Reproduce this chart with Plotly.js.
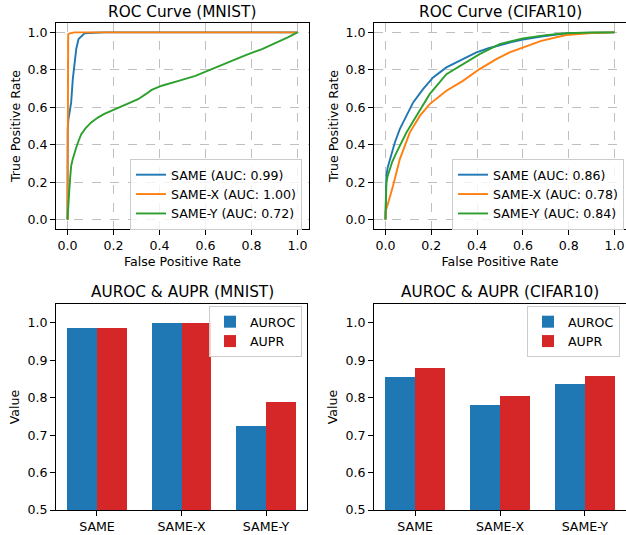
<!DOCTYPE html>
<html>
<head>
<meta charset="utf-8">
<script src="https://cdn.plot.ly/plotly-3.0.1.min.js"></script>
<style>html,body{margin:0;padding:0;background:#fff}#chart{width:626px;height:535px}</style>
</head>
<body>
<div id="chart"></div>
<script>
// ---------- ROC data (MNIST) ----------
var mnistSameFpr = [0, 0.0, 0.001, 0.004, 0.009, 0.016, 0.023, 0.031, 0.038, 0.048, 0.058, 0.067, 0.074, 0.09, 0.12, 0.16, 0.3, 1.0];
var mnistSameTpr = [0, 0.40, 0.483, 0.536, 0.57, 0.626, 0.75, 0.857, 0.911, 0.964, 0.975, 0.982, 0.995, 0.997, 0.998, 1.0, 1.0, 1.0];
var mnistXFpr = [0, 0.0, 0.003, 0.01, 0.03, 1.0];
var mnistXTpr = [0, 0.985, 0.99, 0.995, 1.0, 1.0];
var mnistYFpr = [0, 0.002, 0.004, 0.008, 0.012, 0.016, 0.022, 0.03, 0.038, 0.048, 0.06, 0.08, 0.103, 0.132, 0.16, 0.19, 0.22, 0.25, 0.307, 0.34, 0.366, 0.41, 0.45, 0.483, 0.556, 0.627, 0.70, 0.775, 0.846, 0.919, 0.96, 1.0];
var mnistYTpr = [0, 0.03, 0.073, 0.16, 0.23, 0.287, 0.32, 0.36, 0.385, 0.42, 0.456, 0.49, 0.519, 0.545, 0.565, 0.581, 0.597, 0.611, 0.643, 0.67, 0.693, 0.715, 0.728, 0.741, 0.768, 0.804, 0.843, 0.879, 0.911, 0.95, 0.975, 1.0];

// ---------- ROC data (CIFAR10) ----------
var cifarSameFpr = [0, 0.001, 0.004, 0.01, 0.019, 0.03, 0.041, 0.0625, 0.0916, 0.121, 0.164, 0.208, 0.266, 0.324, 0.397, 0.45, 0.498, 0.55, 0.6, 0.68, 0.789, 0.9, 1.0];
var cifarSameTpr = [0, 0.12, 0.233, 0.28, 0.322, 0.37, 0.412, 0.483, 0.554, 0.626, 0.697, 0.759, 0.813, 0.848, 0.893, 0.915, 0.932, 0.948, 0.961, 0.978, 0.995, 0.999, 1.0];
var cifarXFpr = [0, 0.0, 0.012, 0.033, 0.0625, 0.085, 0.106, 0.15, 0.193, 0.266, 0.338, 0.411, 0.484, 0.542, 0.6, 0.68, 0.789, 0.9, 1.0];
var cifarXTpr = [0, 0.04, 0.09, 0.18, 0.322, 0.40, 0.465, 0.554, 0.617, 0.688, 0.741, 0.804, 0.857, 0.893, 0.92, 0.955, 0.986, 0.997, 1.0];
var cifarYFpr = [0, 0.001, 0.004, 0.01, 0.019, 0.03, 0.048, 0.07, 0.0916, 0.135, 0.193, 0.266, 0.338, 0.411, 0.498, 0.6, 0.7, 0.789, 0.9, 1.0];
var cifarYTpr = [0, 0.1, 0.198, 0.235, 0.269, 0.31, 0.358, 0.415, 0.465, 0.554, 0.670, 0.777, 0.830, 0.884, 0.937, 0.968, 0.985, 0.995, 0.999, 1.0];

var mnistRocNames = ['SAME (AUC: 0.99)', 'SAME-X (AUC: 1.00)', 'SAME-Y (AUC: 0.72)'];
var cifarRocNames = ['SAME (AUC: 0.86)', 'SAME-X (AUC: 0.78)', 'SAME-Y (AUC: 0.84)'];

// ---------- Bar data ----------
var methods = ['SAME', 'SAME-X', 'SAME-Y'];
var mnistAuroc = [0.987, 1.0, 0.725];
var mnistAupr = [0.987, 1.0, 0.789];
var cifarAuroc = [0.856, 0.781, 0.837];
var cifarAupr = [0.880, 0.805, 0.858];

var C_BLUE = '#1f77b4', C_ORANGE = '#ff7f0e', C_GREEN = '#2ca02c', C_RED = '#d62728';
var FONT = 'DejaVu Sans, sans-serif';
var W = 626, H = 535;
function px(v){return v / W;}
function py(v){return 1 - v / H;}

function line(x, y, name, color, xa, ya, leg){
  return {type:'scatter', mode:'lines', x:x, y:y, name:name, xaxis:xa, yaxis:ya, legend:leg,
          line:{color:color, width:1.9}, hoverinfo:'skip'};
}
function bar(x, y, name, color, off, xa, ya, leg){
  return {type:'bar', x:x, y:y, name:name, xaxis:xa, yaxis:ya, legend:leg, width:0.35, offset:off,
          marker:{color:color, line:{width:0}}, hoverinfo:'skip'};
}

var data = [
  line(mnistSameFpr, mnistSameTpr, mnistRocNames[0], C_BLUE, 'x', 'y', 'legend'),
  line(mnistXFpr, mnistXTpr, mnistRocNames[1], C_ORANGE, 'x', 'y', 'legend'),
  line(mnistYFpr, mnistYTpr, mnistRocNames[2], C_GREEN, 'x', 'y', 'legend'),
  line(cifarSameFpr, cifarSameTpr, cifarRocNames[0], C_BLUE, 'x2', 'y2', 'legend2'),
  line(cifarXFpr, cifarXTpr, cifarRocNames[1], C_ORANGE, 'x2', 'y2', 'legend2'),
  line(cifarYFpr, cifarYTpr, cifarRocNames[2], C_GREEN, 'x2', 'y2', 'legend2'),
  bar(methods, mnistAuroc, 'AUROC', C_BLUE, -0.35, 'x3', 'y3', 'legend3'),
  bar(methods, mnistAupr, 'AUPR', C_RED, 0, 'x3', 'y3', 'legend3'),
  bar(methods, cifarAuroc, 'AUROC', C_BLUE, -0.35, 'x4', 'y4', 'legend4'),
  bar(methods, cifarAupr, 'AUPR', C_RED, 0, 'x4', 'y4', 'legend4')
];

var FS = 12.6;
var tickFont = {family:FONT, size:FS, color:'#000'};
var titleFont = {family:FONT, size:FS, color:'#000'};
function common(){
  return {showline:true, mirror:true, linecolor:'#000', linewidth:1, ticks:'outside', ticklen:5,
    tickcolor:'#000', zeroline:false, tickfont:tickFont, automargin:false};
}
function rocX(dom, anchor){
  return Object.assign(common(), {domain:dom, anchor:anchor, range:[-0.05, 1.05], dtick:0.2, tick0:0, tickformat:'.1f',
    showgrid:true, gridcolor:'rgba(170,170,170,0.75)', griddash:'dash', gridwidth:1,
    title:{text:'False Positive Rate', font:titleFont, standoff:5}});
}
function rocY(dom, anchor){
  return Object.assign(common(), {domain:dom, anchor:anchor, range:[-0.05, 1.05], dtick:0.2, tick0:0, tickformat:'.1f',
    showgrid:true, gridcolor:'rgba(170,170,170,0.75)', griddash:'dash', gridwidth:1,
    title:{text:'True Positive Rate', font:titleFont, standoff:4}});
}
function barX(dom, anchor){
  return Object.assign(common(), {domain:dom, anchor:anchor, type:'category', range:[-0.485, 2.485], showgrid:false});
}
function barY(dom, anchor){
  return Object.assign(common(), {domain:dom, anchor:anchor, range:[0.5, 1.05], dtick:0.1, tick0:0.5, tickformat:'.1f',
    showgrid:false, title:{text:'Value', font:titleFont, standoff:5}});
}
function legendBox(xr, yt){
  return {x:xr, xanchor:'right', y:yt, yanchor:'top', bgcolor:'rgba(255,255,255,0.8)',
    bordercolor:'#cccccc', borderwidth:1, font:{family:FONT, size:FS, color:'#000'},
    itemwidth:30, tracegroupgap:0, traceorder:'normal'};
}
function ttl(text, xc, yc){
  return {text:text, xref:'paper', yref:'paper', x:xc, y:yc, xanchor:'center', yanchor:'middle',
    showarrow:false, font:{family:FONT, size:15.3, color:'#000'}};
}

var layout = {
  width:W, height:H, margin:{l:0, r:0, t:0, b:0}, paper_bgcolor:'#fff', plot_bgcolor:'#fff',
  showlegend:true, barmode:'overlay', bargap:0,
  xaxis: rocX([px(56), px(309)], 'y'),
  yaxis: rocY([py(229), py(23)], 'x'),
  xaxis2: rocX([px(374), 1], 'y2'),
  yaxis2: rocY([py(229), py(23)], 'x2'),
  xaxis3: barX([px(56), px(307)], 'y3'),
  yaxis3: barY([py(510), py(304)], 'x3'),
  xaxis4: barX([px(374), 1], 'y4'),
  yaxis4: barY([py(510), py(304)], 'x4'),
  legend: legendBox(px(302), py(159)),
  legend2: legendBox(px(624), py(159)),
  legend3: legendBox(px(302), py(306)),
  legend4: legendBox(px(620), py(306)),
  annotations:[
    ttl('ROC Curve (MNIST)', px(182), py(12)),
    ttl('ROC Curve (CIFAR10)', px(500), py(12)),
    ttl('AUROC &amp; AUPR (MNIST)', px(182), py(292)),
    ttl('AUROC &amp; AUPR (CIFAR10)', px(500), py(292))
  ]
};

Plotly.newPlot('chart', data, layout, {staticPlot:true, displayModeBar:false});
</script>
</body>
</html>
